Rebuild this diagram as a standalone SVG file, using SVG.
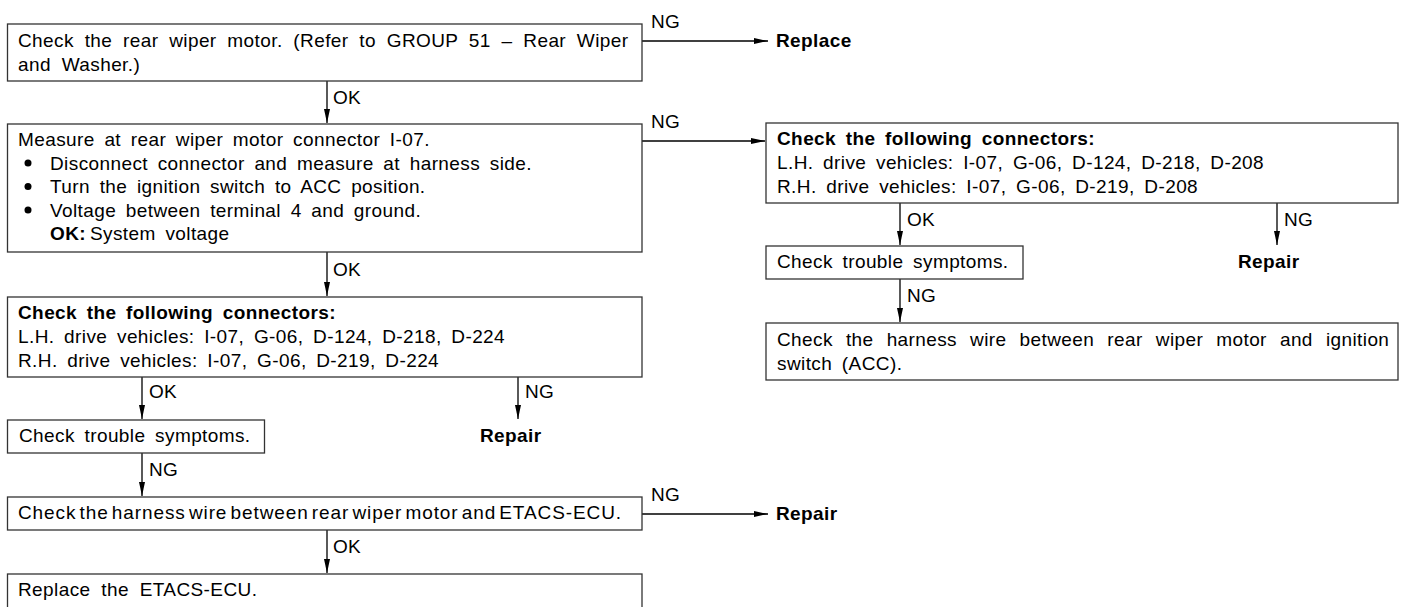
<svg xmlns="http://www.w3.org/2000/svg" width="1407" height="607" viewBox="0 0 1407 607">
<style>
.box{fill:#fff;stroke:#333;stroke-width:1.3}
.t{font-family:"Liberation Sans",Arial,sans-serif;font-size:19px;fill:#000;letter-spacing:0.4px;word-spacing:4px}
.b{font-weight:bold}
.lbl{font-family:"Liberation Sans",Arial,sans-serif;font-size:19px;fill:#000;letter-spacing:0.3px}
.c{fill:none;stroke:#000;stroke-width:1.3}
</style>
<defs>
<marker id="ah" markerWidth="14" markerHeight="8" refX="14" refY="4" orient="auto" markerUnits="userSpaceOnUse">
<path d="M0,1 L14,4 L0,7 Z" fill="#000"/>
</marker>
</defs>
<rect width="1407" height="607" fill="#fff"/>
<g id="connectors">
<path class="c" d="M642 41 H768" marker-end="url(#ah)"/>
<path class="c" d="M327 81 V123" marker-end="url(#ah)"/>
<path class="c" d="M642 141 H765" marker-end="url(#ah)"/>
<path class="c" d="M327 252 V296" marker-end="url(#ah)"/>
<path class="c" d="M142 377 V419" marker-end="url(#ah)"/>
<path class="c" d="M518 377 V419" marker-end="url(#ah)"/>
<path class="c" d="M142 453 V496" marker-end="url(#ah)"/>
<path class="c" d="M642 514 H768" marker-end="url(#ah)"/>
<path class="c" d="M327 530 V573" marker-end="url(#ah)"/>
<path class="c" d="M900 203 V245" marker-end="url(#ah)"/>
<path class="c" d="M1277 203 V245" marker-end="url(#ah)"/>
<path class="c" d="M900 279 V322" marker-end="url(#ah)"/>
<text class="lbl" x="651" y="28">NG</text>
<text class="lbl" x="333" y="104">OK</text>
<text class="lbl" x="651" y="128">NG</text>
<text class="lbl" x="333" y="276">OK</text>
<text class="lbl" x="149" y="398">OK</text>
<text class="lbl" x="525" y="398">NG</text>
<text class="lbl" x="149" y="476">NG</text>
<text class="lbl" x="651" y="501">NG</text>
<text class="lbl" x="333" y="553">OK</text>
<text class="lbl" x="907" y="226">OK</text>
<text class="lbl" x="1284" y="226">NG</text>
<text class="lbl" x="907" y="302">NG</text>
</g>
<g id="n1">
<rect class="box" x="7.5" y="24" width="634.5" height="57"/>
<text class="t" x="18" y="47" style="word-spacing:5.1px">Check the rear wiper motor. (Refer to GROUP 51 – Rear Wiper</text>
<text class="t" x="18" y="71" style="word-spacing:5.1px">and Washer.)</text>
</g>
<g id="replace1"><text class="t b" x="776" y="47">Replace</text></g>
<g id="n2">
<rect class="box" x="7.5" y="124" width="634.5" height="128"/>
<text class="t" x="18" y="146">Measure at rear wiper motor connector I-07.</text>
<circle cx="28" cy="163" r="3.5"/>
<text class="t" x="50" y="169.5">Disconnect connector and measure at harness side.</text>
<circle cx="28" cy="186.5" r="3.5"/>
<text class="t" x="50" y="193">Turn the ignition switch to ACC position.</text>
<circle cx="28" cy="210" r="3.5"/>
<text class="t" x="50" y="216.5">Voltage between terminal 4 and ground.</text>
<text class="t b" x="50" y="240">OK:</text>
<text class="t" x="90" y="240">System voltage</text>
</g>
<g id="n3">
<rect class="box" x="766" y="123" width="632" height="80"/>
<text class="t b" x="777" y="145">Check the following connectors:</text>
<text class="t" x="777" y="169">L.H. drive vehicles: I-07, G-06, D-124, D-218, D-208</text>
<text class="t" x="777" y="193">R.H. drive vehicles: I-07, G-06, D-219, D-208</text>
</g>
<g id="n4">
<rect class="box" x="766" y="246" width="257" height="33"/>
<text class="t" x="777" y="268">Check trouble symptoms.</text>
</g>
<g id="repair3"><text class="t b" x="1238" y="268">Repair</text></g>
<g id="n5">
<rect class="box" x="766" y="323" width="632" height="57"/>
<text class="t" x="777" y="346" style="word-spacing:7.4px">Check the harness wire between rear wiper motor and ignition</text>
<text class="t" x="777" y="370">switch (ACC).</text>
</g>
<g id="n6">
<rect class="box" x="7.5" y="297" width="634.5" height="80"/>
<text class="t b" x="18" y="319">Check the following connectors:</text>
<text class="t" x="18" y="343">L.H. drive vehicles: I-07, G-06, D-124, D-218, D-224</text>
<text class="t" x="18" y="367">R.H. drive vehicles: I-07, G-06, D-219, D-224</text>
</g>
<g id="n7">
<rect class="box" x="7.5" y="420" width="257" height="33"/>
<text class="t" x="19" y="442">Check trouble symptoms.</text>
</g>
<g id="repair2"><text class="t b" x="480" y="442">Repair</text></g>
<g id="n8">
<rect class="box" x="7.5" y="497" width="634.5" height="33"/>
<text class="t" x="18" y="519" style="letter-spacing:0.9px;word-spacing:-3px">Check the harness wire between rear wiper motor and ETACS-ECU.</text>
</g>
<g id="repair1"><text class="t b" x="776" y="520">Repair</text></g>
<g id="n9">
<rect class="box" x="7.5" y="574" width="634.5" height="40"/>
<text class="t" x="18" y="596" style="word-spacing:5.1px">Replace the ETACS-ECU.</text>
</g>
</svg>
